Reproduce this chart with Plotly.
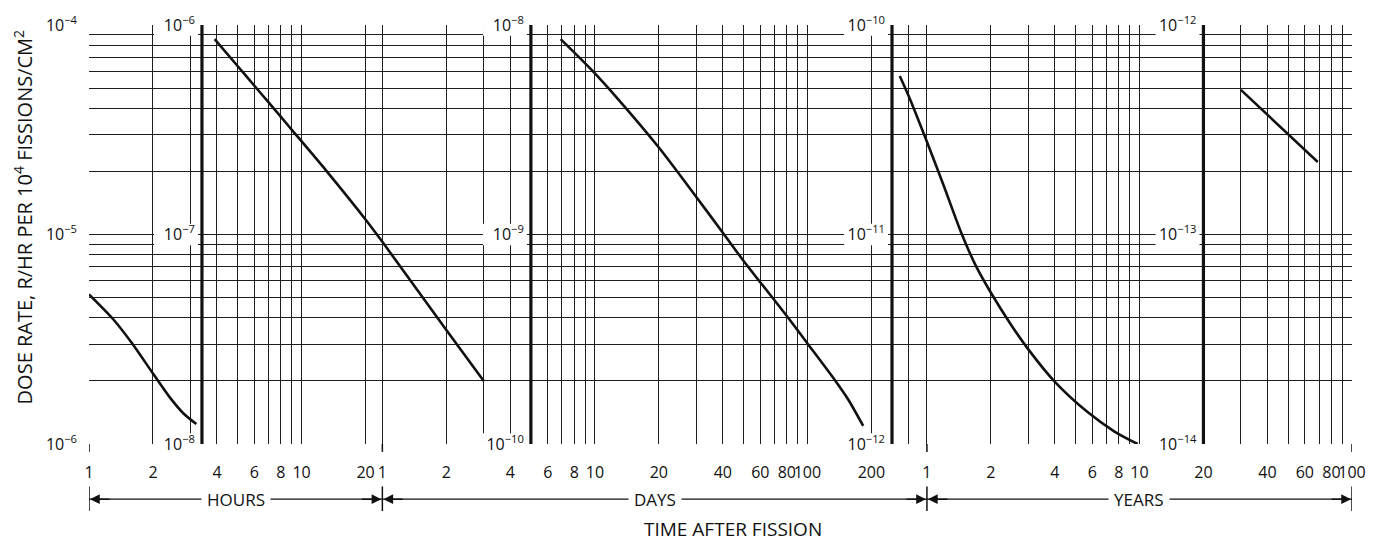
import math
import plotly.graph_objects as go

# ---------------- data ----------------
HOURS_PER_DAY = 24
HOURS_PER_YEAR = 8760

# panel 1 (hours, 1e-6 .. 1e-4)
p1_hours = [1.0, 1.3, 1.6, 2.0, 2.4, 2.8, 3.2]
p1_rate = [5.18e-6, 3.94e-6, 3.01e-6, 2.17e-6, 1.67e-6, 1.39e-6, 1.245e-6]
# panel 2 (hours, 1e-8 .. 1e-6)
p2_hours = [3.9, 5, 6, 7, 8, 9, 13, 20, 24, 48, 72]
p2_rate = [8.56e-7, 6.37e-7, 5.13e-7, 4.27e-7, 3.64e-7, 3.16e-7, 2.03e-7, 1.18e-7, 9.23e-8, 3.5e-8, 2.0e-8]
# panel 3 (days, 1e-10 .. 1e-8)
p3_days = [6.9, 9.7, 13, 20, 30, 40, 50, 80, 100, 135, 155, 183]
p3_rate = [8.56e-9, 6.07e-9, 4.37e-9, 2.6e-9, 1.51e-9, 1.02e-9, 7.5e-10, 4.08e-10, 3.02e-10,
           2.01e-10, 1.64e-10, 1.22e-10]
# panel 4 (years, 1e-12 .. 1e-10)
p4_years = [0.745, 0.83, 1.0, 1.2, 1.45, 1.7, 2.0, 2.5, 3.0, 4.0, 5.7, 7.6, 9.8]
p4_rate = [5.71e-11, 4.46e-11, 2.77e-11, 1.71e-11, 1.02e-11, 7.08e-12, 5.27e-12, 3.68e-12, 2.83e-12,
           1.98e-12, 1.42e-12, 1.15e-12, 1.0e-12]
# panel 5 (years, 1e-14 .. 1e-12)
p5_years = [30, 69]
p5_rate = [4.9e-13, 2.22e-13]

# panel boundaries (start of each panel), in native units
panel_start_hours = [1, 3.4]
panel_start_days = [5, 250]
panel_start_years = [20]
axis_end_years = 100
panel_top_exp = [-4, -6, -8, -10, -12]

# x tick labels / grid
hour_ticks = [1, 2, 4, 6, 8, 10, 20]
day_ticks = [1, 2, 4, 6, 8, 10, 20, 40, 60, 80, 100, 200]
year_ticks = [1, 2, 4, 6, 8, 10, 20, 40, 60, 80, 100]
hour_minor = [3, 5, 7, 9]
day_minor = [3, 5, 7, 9, 30, 50, 70, 90, 300]
year_minor = [3, 5, 7, 9, 30, 50, 70, 90]

unit_labels = ["HOURS", "DAYS", "YEARS"]
x_title = "TIME AFTER FISSION"
y_title = "DOSE RATE, R/HR PER 10<sup>4</sup> FISSIONS/CM<sup>2</sup>"

# ---------------- derived ----------------
boundaries = ([h for h in panel_start_hours] + [d * HOURS_PER_DAY for d in panel_start_days]
              + [y * HOURS_PER_YEAR for y in panel_start_years])
x_end = axis_end_years * HOURS_PER_YEAR
x_log_end = math.log10(x_end)
EPS = 1e-5

tickvals = ([h for h in hour_ticks] + [d * HOURS_PER_DAY for d in day_ticks]
            + [y * HOURS_PER_YEAR for y in year_ticks])
ticktext = [str(v) for v in hour_ticks + day_ticks + year_ticks]
minorvals = ([h for h in hour_minor] + [d * HOURS_PER_DAY for d in day_minor]
             + [y * HOURS_PER_YEAR for y in year_minor])

FONT = "Open Sans"
INK = "#111111"
GRID = "#1e1e1e"

W, H = 1378, 543
ML, MR, MT, MB = 89, 23, 19, 99
PW, PH = W - ML - MR, H - MT - MB
px_per_dec_x = PW / x_log_end
px_per_dec_y = PH / 2.0


def sup(e):
    return "10<sup>" + ("\u2212" + str(-e) if e < 0 else str(e)) + "</sup>"


fig = go.Figure()

curves = [
    (p1_hours, 1, p1_rate),
    (p2_hours, 1, p2_rate),
    (p3_days, HOURS_PER_DAY, p3_rate),
    (p4_years, HOURS_PER_YEAR, p4_rate),
    (p5_years, HOURS_PER_YEAR, p5_rate),
]
for i, (t, mult, r) in enumerate(curves):
    fig.add_trace(go.Scatter(
        x=[v * mult for v in t], y=r, mode="lines",
        line=dict(color=INK, width=2.6, shape="spline", smoothing=0.8),
        yaxis="y" if i == 0 else "y%d" % (i + 1),
        showlegend=False, hoverinfo="skip"))

layout = dict(
    width=W, height=H,
    margin=dict(l=ML, r=MR, t=MT, b=MB),
    paper_bgcolor="white", plot_bgcolor="white",
    font=dict(family=FONT, size=16, color=INK),
    showlegend=False,
    xaxis=dict(
        type="log", range=[-EPS, x_log_end + EPS],
        tickmode="array", tickvals=tickvals, ticktext=ticktext, tickangle=0,
        showgrid=True, gridcolor=GRID, gridwidth=1,
        ticks="", ticklabelstandoff=17, zeroline=False, showline=False,
        tickfont=dict(family=FONT, size=16, color=INK),
        minor=dict(tickvals=minorvals, showgrid=True, gridcolor=GRID, gridwidth=1, ticks=""),
    ),
)

minor_y = [k * 10.0 ** e for e in (-6, -5) for k in range(2, 10)]
layout["yaxis"] = dict(
    type="log", range=[-6 - EPS, -4 + EPS],
    tickmode="array", tickvals=[10.0 ** e for e in (-6, -5, -4)],
    ticktext=[sup(e) for e in (-6, -5, -4)],
    showgrid=True, gridcolor=GRID, gridwidth=1,
    ticks="", ticklabelstandoff=11, zeroline=False, showline=False,
    tickfont=dict(family=FONT, size=16, color=INK),
    minor=dict(tickvals=minor_y, showgrid=True, gridcolor=GRID, gridwidth=1, ticks=""),
)

for k in range(1, 5):
    top = panel_top_exp[k]
    exps = [top - 2, top - 1, top]
    layout["yaxis%d" % (k + 1)] = dict(
        type="log", range=[top - 2 - EPS, top + EPS], overlaying="y",
        anchor="free", position=math.log10(boundaries[k]) / x_log_end, side="left",
        tickmode="array", tickvals=[10.0 ** e for e in exps], ticktext=[sup(e) for e in exps],
        showgrid=False, ticks="", ticklabelstandoff=7, zeroline=False, showline=False,
        tickfont=dict(family=FONT, size=16, color=INK),
    )

shapes = []
# white patches under the in-plot tick labels
for k in range(1, 5):
    b = boundaries[k]
    for j in range(3):
        v = 10.0 ** (-4 - j)
        shapes.append(dict(
            type="rect", xref="x", yref="y", layer="between",
            x0=b / 10 ** (48 / px_per_dec_x), x1=b / 10 ** (4 / px_per_dec_x),
            y0=v / 10 ** (11 / px_per_dec_y), y1=v * 10 ** (11 / px_per_dec_y),
            fillcolor="white", line=dict(width=0)))
# heavy panel separators
for b in boundaries[1:]:
    shapes.append(dict(type="line", xref="x", yref="paper", x0=b, x1=b, y0=0, y1=1,
                       line=dict(color=INK, width=3.2), layer="above"))
# unit separators: small stubs and bars of the arrow row
unit_edges = [1, HOURS_PER_DAY, HOURS_PER_YEAR, x_end]
row_y = -56 / PH
for e in unit_edges:
    shapes.append(dict(type="line", xref="x", yref="paper", x0=e, x1=e, y0=0, y1=-8 / PH,
                       line=dict(color=INK, width=1.5)))
    shapes.append(dict(type="line", xref="x", yref="paper", x0=e, x1=e,
                       y0=-43 / PH, y1=-68 / PH, line=dict(color=INK, width=1.5)))
for a, b in zip(unit_edges[:-1], unit_edges[1:]):
    shapes.append(dict(type="line", xref="x", yref="paper", x0=a, x1=b, y0=row_y, y1=row_y,
                       line=dict(color=INK, width=1.3)))
layout["shapes"] = shapes

annotations = []
for i, (a, b) in enumerate(zip(unit_edges[:-1], unit_edges[1:])):
    la, lb = math.log10(a), math.log10(b)
    annotations.append(dict(x=la, y=row_y, xref="x", yref="paper", text="", showarrow=True,
                            ax=22, ay=0, arrowhead=2, arrowsize=1.3, arrowwidth=1.5,
                            arrowcolor=INK, standoff=1))
    annotations.append(dict(x=lb, y=row_y, xref="x", yref="paper", text="", showarrow=True,
                            ax=-22, ay=0, arrowhead=2, arrowsize=1.3, arrowwidth=1.5,
                            arrowcolor=INK, standoff=1))
    annotations.append(dict(x=(la + lb) / 2, y=row_y, xref="x", yref="paper",
                            xanchor="center", yanchor="middle",
                            text=unit_labels[i], showarrow=False, bgcolor="white",
                            borderpad=5, font=dict(family=FONT, size=17, color=INK)))
annotations.append(dict(x=(735 - ML) / PW, y=(PH + MT - 530) / PH, xref="paper", yref="paper",
                        text=x_title, xanchor="center", yanchor="middle",
                        showarrow=False, font=dict(family=FONT, size=19, color=INK)))
annotations.append(dict(x=(23 - ML) / PW, y=(PH + MT - 214) / PH, xref="paper",
                        yref="paper", text=y_title, textangle=-90, showarrow=False,
                        xanchor="center", yanchor="middle",
                        font=dict(family=FONT, size=20, color=INK)))
layout["annotations"] = annotations

fig.update_layout(**layout)
fig.write_html("out.html")
